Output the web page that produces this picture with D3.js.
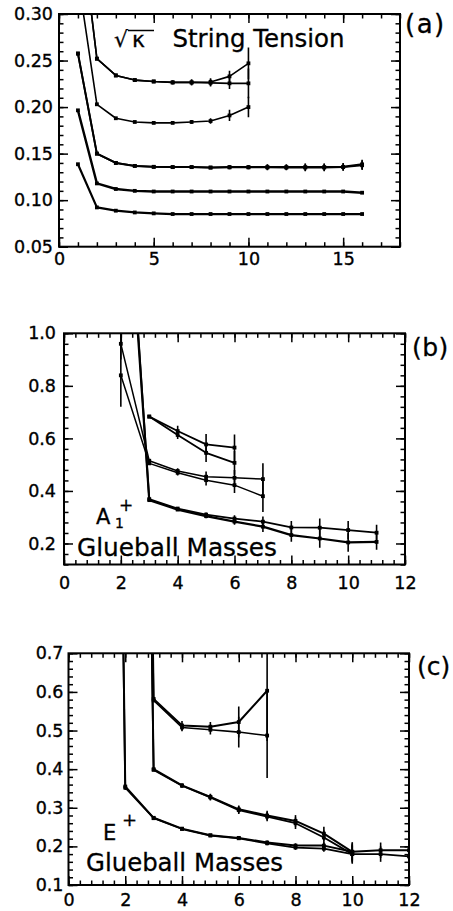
<!DOCTYPE html>
<html><head><meta charset="utf-8">
<script src="https://cdn.jsdelivr.net/npm/d3@7"></script>
<style>
body{margin:0;background:#fff}
svg{display:block;background:#fff}
text{font-family:"DejaVu Sans",sans-serif;fill:#000}
</style>
</head><body>
<svg id="chart" width="453" height="911"></svg>
<script>
// ---------- Panel (a): sqrt(kappa) string tension ----------
const aX16 = [1,2,3,4,5,6,7,8,9,10,11,12,13,14,15,16];
const aX10 = [1,2,3,4,5,6,7,8,9,10];
const aTopUpper = [0.42,0.252,0.234,0.229,0.2275,0.2265,0.2265,0.227,0.233,0.247];
const aTopUpperErr = [0,0,0,0,0.001,0.002,0.003,0.004,0.006,0.017];
const aTopLower = [0.42,0.252,0.234,0.229,0.2275,0.2265,0.2265,0.226,0.2255,0.2255];
const aTopLowerErr = [0,0,0,0,0.001,0.002,0.003,0.004,0.006,0.016];
const aSecond = [0.34,0.203,0.188,0.184,0.183,0.183,0.184,0.185,0.191,0.200];
const aSecondErr = [0,0,0,0,0.001,0.001,0.002,0.003,0.006,0.011];
const aThirdA = [0.2575,0.150,0.140,0.1368,0.1358,0.1355,0.1355,0.135,0.1355,0.1355,0.1355,0.1355,0.1355,0.1355,0.1358,0.1385];
const aThirdB = [0.2575,0.150,0.140,0.1368,0.1358,0.1355,0.1355,0.135,0.1352,0.1352,0.1352,0.135,0.135,0.135,0.1355,0.1375];
const aThirdErr = [0,0,0,0,0,0,0,0.001,0.002,0.002,0.003,0.003,0.004,0.004,0.004,0.005];
const aFourth = [0.1965,0.118,0.112,0.110,0.1093,0.1093,0.1093,0.1093,0.1093,0.1093,0.1093,0.1093,0.1093,0.1093,0.1093,0.108];
const aFifth = [0.1386,0.0922,0.0887,0.0868,0.0858,0.0851,0.0851,0.0851,0.0851,0.0851,0.0851,0.0851,0.0851,0.0851,0.0851,0.0851];
const aXTicks = [0,5,10,15];
const aYTicks = [0.05,0.10,0.15,0.20,0.25,0.30];

// ---------- Panel (b): A1+ glueball masses ----------
const bX3to6 = [3,4,5,6];
const bX2to7 = [2,3,4,5,6,7];
const bX2to11 = [2,3,4,5,6,7,8,9,10,11];
const bTopUpper = [0.683,0.628,0.577,0.565];
const bTopUpperErr = [0.004,0.02,0.04,0.05];
const bTopLower = [0.683,0.613,0.545,0.507];
const bTopLowerErr = [0.004,0.015,0.035,0.045];
const bMidUpper = [0.96,0.515,0.476,0.454,0.45,0.445];
const bMidUpperErr = [0.06,0.005,0.01,0.02,0.03,0.06];
const bMidLower = [0.84,0.505,0.469,0.441,0.422,0.380];
const bMidLowerErr = [0.12,0.005,0.01,0.02,0.03,0.06];
const bLowUpper = [2.0,0.369,0.333,0.310,0.295,0.283,0.261,0.260,0.251,0.241];
const bLowLower = [1.95,0.365,0.329,0.304,0.283,0.264,0.232,0.219,0.204,0.206];
const bLowErr = [0,0.003,0.005,0.008,0.012,0.02,0.025,0.035,0.035,0.03];
const bXTicks = [0,2,4,6,8,10,12];
const bYTicks = [0.2,0.4,0.6,0.8,1.0];

// ---------- Panel (c): E+ glueball masses ----------
const cX2to7 = [2,3,4,5,6,7];
const cX2to10 = [2,3,4,5,6,7,8,9,10];
const cX1to12 = [1,2,3,4,5,6,7,8,9,10,11,12];
const cTopUpper = [6.0,0.582,0.513,0.51,0.522,0.603];
const cTopUpperErr = [0,0,0.012,0.012,0.04,0.13];
const cTopLower = [5.8,0.578,0.508,0.502,0.496,0.487];
const cTopLowerErr = [0,0,0.01,0.012,0.04,0.11];
const cMidUpper = [5.5,0.40,0.358,0.328,0.296,0.280,0.266,0.233,0.186];
const cMidLower = [5.2,0.398,0.357,0.327,0.294,0.277,0.260,0.223,0.180];
const cMidErr = [0,0,0.005,0.008,0.01,0.012,0.015,0.018,0.022];
const cLowUpper = [6.0,0.355,0.274,0.246,0.229,0.222,0.210,0.202,0.202,0.186,0.190,0.190];
const cLowLower = [5.6,0.352,0.273,0.245,0.228,0.221,0.208,0.197,0.194,0.180,0.180,0.174];
const cLowErr = [0,0.006,0,0,0,0.003,0.005,0.006,0.008,0.025,0.02,0.01];
const cXTicks = [0,2,4,6,8,10,12];
const cYTicks = [0.1,0.2,0.3,0.4,0.5,0.6,0.7];

const svg = d3.select("#chart");
svg.append("rect").attr("width",453).attr("height",911).attr("fill","#fff");

function series(xs, ys, es, w) {
  return {pts: xs.map((x,i)=>({x:x, y:ys[i], e: es ? es[i] : 0})), w: w};
}

function panel(cfg, id) {
  const x = d3.scaleLinear().domain(cfg.xd).range(cfg.xr);
  const y = d3.scaleLinear().domain(cfg.yd).range(cfg.yr);
  const g = svg.append("g");
  const [x0,x1] = cfg.xr, [y0,y1] = cfg.yr; // y0 bottom, y1 top
  svg.append("clipPath").attr("id",id).append("rect")
    .attr("x",x0).attr("y",y1).attr("width",x1-x0).attr("height",y0-y1);

  const styleAxis = (sel) => {
    sel.select(".domain").remove();
    sel.selectAll(".tick line").attr("stroke","#000").attr("stroke-width",1.5);
    sel.selectAll(".tick text").attr("font-size",17.5).attr("fill","#000")
       .attr("stroke","#000").attr("stroke-width",0.35)
       .style("font-family","'DejaVu Sans',sans-serif");
  };
  // major ticks w/ labels
  g.append("g").attr("transform",`translate(0,${y0})`)
    .call(d3.axisBottom(x).tickValues(cfg.xt).tickSizeInner(-9).tickSizeOuter(0)
      .tickPadding(cfg.xpad).tickFormat(d3.format("d"))).call(styleAxis);
  g.append("g").attr("transform",`translate(${x0},0)`)
    .call(d3.axisLeft(y).tickValues(cfg.yt).tickSizeInner(-9).tickSizeOuter(0)
      .tickPadding(cfg.ypad).tickFormat(d3.format(cfg.yf))).call(styleAxis);
  g.append("g").attr("transform",`translate(0,${y1})`)
    .call(d3.axisTop(x).tickValues(cfg.xt).tickSizeInner(-9).tickSizeOuter(0).tickFormat("")).call(styleAxis);
  g.append("g").attr("transform",`translate(${x1},0)`)
    .call(d3.axisRight(y).tickValues(cfg.yt).tickSizeInner(-9).tickSizeOuter(0).tickFormat("")).call(styleAxis);
  // minor ticks
  const xm = d3.range(cfg.xd[0], cfg.xd[1]+1e-9, cfg.xms);
  const ym = d3.range(cfg.yd[0], cfg.yd[1]+1e-9, cfg.yms);
  g.append("g").attr("transform",`translate(0,${y0})`)
    .call(d3.axisBottom(x).tickValues(xm).tickSize(-4.5).tickFormat("")).call(styleAxis);
  g.append("g").attr("transform",`translate(0,${y1})`)
    .call(d3.axisTop(x).tickValues(xm).tickSize(-4.5).tickFormat("")).call(styleAxis);
  g.append("g").attr("transform",`translate(${x0},0)`)
    .call(d3.axisLeft(y).tickValues(ym).tickSize(-4.5).tickFormat("")).call(styleAxis);
  g.append("g").attr("transform",`translate(${x1},0)`)
    .call(d3.axisRight(y).tickValues(ym).tickSize(-4.5).tickFormat("")).call(styleAxis);
  // frame
  g.append("rect").attr("x",x0).attr("y",y1).attr("width",x1-x0).attr("height",y0-y1)
    .attr("fill","none").attr("stroke","#000").attr("stroke-width",2);

  const dg = g.append("g").attr("clip-path",`url(#${id})`);
  const line = d3.line().x(d=>x(d.x)).y(d=>y(d.y));
  cfg.series.forEach(s => {
    dg.append("path").attr("d",line(s.pts)).attr("fill","none")
      .attr("stroke","#000").attr("stroke-width",s.w).attr("stroke-linejoin","round");
    s.pts.forEach(p => {
      if (p.e > 0) {
        dg.append("line").attr("x1",x(p.x)).attr("x2",x(p.x))
          .attr("y1",y(p.y-p.e)).attr("y2",y(p.y+p.e))
          .attr("stroke","#000").attr("stroke-width",1.6);
      }
      if (p.y <= cfg.yd[1]) {
        dg.append("rect").attr("x",x(p.x)-1.9).attr("y",y(p.y)-1.9)
          .attr("width",3.8).attr("height",3.8).attr("fill","#000");
      }
    });
  });
  return {x, y, g};
}

// Panel (a)
panel({
  xd:[0,18], xr:[59,400], yd:[0.05,0.30], yr:[246.7,14],
  xt:aXTicks, yt:aYTicks, yf:".2f", xpad:6, ypad:6, xms:1, yms:0.01,
  series:[
    series(aX10,aTopUpper,aTopUpperErr,1.6),
    series(aX10,aTopLower,aTopLowerErr,1.6),
    series(aX10,aSecond,aSecondErr,1.6),
    series(aX16,aThirdA,aThirdErr,2.0),
    series(aX16,aThirdB,aThirdErr,1.8),
    series(aX16,aFourth,null,2.4),
    series(aX16,aFifth,null,2.2)
  ]
}, "clipA");

// Panel (b)
panel({
  xd:[0,12], xr:[64,405], yd:[0.12,1.0], yr:[564.5,333.3],
  xt:bXTicks, yt:bYTicks, yf:".1f", xpad:12, ypad:8, xms:0.4, yms:0.04,
  series:[
    series(bX3to6,bTopUpper,bTopUpperErr,1.8),
    series(bX3to6,bTopLower,bTopLowerErr,1.8),
    series(bX2to7,bMidUpper,bMidUpperErr,1.5),
    series(bX2to7,bMidLower,bMidLowerErr,1.5),
    series(bX2to11,bLowUpper,bLowErr,1.8),
    series(bX2to11,bLowLower,bLowErr,2.2)
  ]
}, "clipB");

// Panel (c)
panel({
  xd:[0,12], xr:[68.5,409], yd:[0.1,0.7], yr:[885,653.3],
  xt:cXTicks, yt:cYTicks, yf:".1f", xpad:9, ypad:5, xms:0.4, yms:0.02,
  series:[
    series(cX2to7,cTopUpper,cTopUpperErr,2.0),
    series(cX2to7,cTopLower,cTopLowerErr,1.6),
    series(cX2to10,cMidUpper,cMidErr,2.0),
    series(cX2to10,cMidLower,cMidErr,1.8),
    series(cX1to12,cLowUpper,cLowErr,2.0),
    series(cX1to12,cLowLower,cLowErr,1.8)
  ]
}, "clipC");

// ---------- Texts ----------
function txt(t, x, y, size, extra) {
  const e = svg.append("text").attr("x",x).attr("y",y).attr("font-size",size)
    .attr("stroke","#000").attr("stroke-width",0.3).text(t);
  if (extra) extra(e);
  return e;
}
// panel letters
txt("(a)",405,33,26, e=>e.attr("letter-spacing",1.5));
txt("(b)",412,356,25, e=>e.attr("letter-spacing",0.5));
txt("(c)",417,675,25, e=>e.attr("letter-spacing",0));
// title (a)
txt("√",114,47,22);
txt("κ",132,47,22);
svg.append("line").attr("x1",128).attr("x2",154).attr("y1",30.5).attr("y2",30.5)
  .attr("stroke","#000").attr("stroke-width",1.5);
txt("String Tension",172.5,47,24, e=>e.attr("textLength",172).attr("lengthAdjust","spacingAndGlyphs"));
// panel (b) label
txt("A",96,524,21);
txt("1",115,528,14);
txt("+",119,511,17);
txt("Glueball Masses",77,556,25, e=>e.attr("textLength",200).attr("lengthAdjust","spacingAndGlyphs"));
// panel (c) label
txt("E",103,840,21);
txt("+",122,826,18);
txt("Glueball Masses",86,871,25, e=>e.attr("textLength",197).attr("lengthAdjust","spacingAndGlyphs"));
</script>
</body></html>
